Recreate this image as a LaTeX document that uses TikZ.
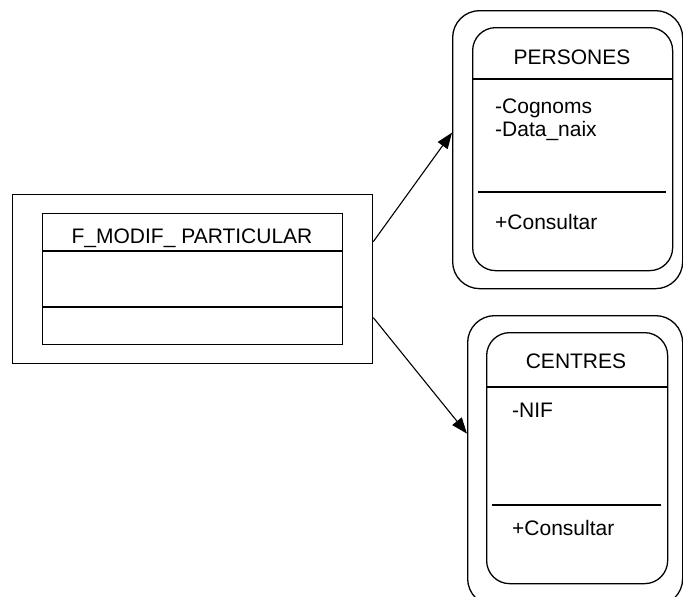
\documentclass[tikz,border=0pt]{standalone}
\usepackage{fontspec}
\setmainfont{Liberation Sans}
\usetikzlibrary{arrows.meta}
\begin{document}
\begin{tikzpicture}[x=1pt,y=-1pt,
  box/.style={draw, line width=1.3pt, inner sep=0pt, anchor=north west},
  rbox/.style={box, rounded corners=27pt},
  rinner/.style={box, rounded corners=23pt},
  divider/.style={line width=1.3pt},
  lbl/.style={font=\fontsize{21}{24}\selectfont, inner sep=0pt},
  link/.style={line width=1.1pt, -{Triangle[length=16pt,width=12pt]}}]
\useasboundingbox (0,0) rectangle (683,597);

% form class on the left
\node[box, minimum width=360pt, minimum height=169pt] (fo) at (12,194) {};
\node[box, minimum width=300pt, minimum height=131pt] (fc) at (42,213) {};
\draw[divider] (fc.west |- 0,251) -- (fc.east |- 0,251);
\draw[divider] (fc.west |- 0,307) -- (fc.east |- 0,307);
\node[lbl, anchor=base] (ft) at (192,243) {F\_MODIF\_ PARTICULAR};

% PERSONES class
\node[rbox, minimum width=230pt, minimum height=278pt] (po) at (452,10) {};
\node[rinner, minimum width=200pt, minimum height=243pt] (pc) at (472,27) {};
\draw[divider] (pc.west |- 0,79) -- (pc.east |- 0,79);
\draw[divider] (478,192) -- (666,192);
\node[lbl, anchor=base] (pt) at (572,64) {PERSONES};
\node[lbl, anchor=base west] (pa1) at (495,113) {-Cognoms};
\node[lbl, anchor=base west] (pa2) at (495,136) {-Data\_naix};
\node[lbl, anchor=base west] (pm) at (495,229) {+Consultar};

% CENTRES class
\node[rbox, minimum width=215pt, minimum height=290pt] (co) at (467,315) {};
\node[rinner, minimum width=181pt, minimum height=251pt] (cc) at (486,332) {};
\draw[divider] (cc.west |- 0,387) -- (cc.east |- 0,387);
\draw[divider] (492,505) -- (661,505);
\node[lbl, anchor=base] (ct) at (576,368) {CENTRES};
\node[lbl, anchor=base west] (ca1) at (512,417) {-NIF};
\node[lbl, anchor=base west] (cm) at (512,535) {+Consultar};

% associations
\draw[link] ([yshift=37.5pt]fo.east) -- ([yshift=17pt]po.west);
\draw[link] ([yshift=-38.5pt]fo.east) -- ([yshift=27pt]co.west);
\end{tikzpicture}
\end{document}
